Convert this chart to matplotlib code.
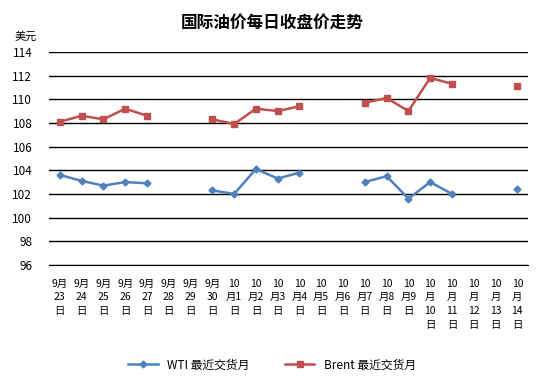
import numpy as np
import matplotlib
matplotlib.use("Agg")
import matplotlib.pyplot as plt

plt.rcParams['font.family'] = ['Noto Sans CJK SC', 'DejaVu Sans']

categories = ["9月\n23\n日", "9月\n24\n日", "9月\n25\n日", "9月\n26\n日", "9月\n27\n日",
              "9月\n28\n日", "9月\n29\n日", "9月\n30\n日", "10\n月1\n日", "10\n月2\n日",
              "10\n月3\n日", "10\n月4\n日", "10\n月5\n日", "10\n月6\n日", "10\n月7\n日",
              "10\n月8\n日", "10\n月9\n日", "10\n月\n10\n日", "10\n月\n11\n日", "10\n月\n12\n日",
              "10\n月\n13\n日", "10\n月\n14\n日"]
nan = np.nan
wti = [103.6, 103.1, 102.7, 103.0, 102.9, nan, nan, 102.3, 102.0, 104.1,
       103.3, 103.8, nan, nan, 103.0, 103.5, 101.6, 103.0, 102.0, nan, nan, 102.4]
brent = [108.1, 108.6, 108.3, 109.2, 108.6, nan, nan, 108.3, 107.9, 109.2,
         109.0, 109.4, nan, nan, 109.7, 110.1, 109.0, 111.8, 111.3, nan, nan, 111.1]
yticks = [96, 98, 100, 102, 104, 106, 108, 110, 112, 114]

fig = plt.figure(figsize=(5.44, 3.84), dpi=100)
ax = fig.add_axes([0.090, 0.310, 0.881, 0.555])
x = np.arange(len(categories))
ax.plot(x, wti, color='#4F81BD', lw=1.8, marker='D', ms=3.5, label='WTI 最近交货月')
ax.plot(x, brent, color='#C0504D', lw=1.8, marker='s', ms=5, label='Brent 最近交货月')

ax.set_xlim(-0.5, len(categories) - 0.5)
ax.set_ylim(96, 114)
ax.set_yticks(yticks)
ax.set_yticklabels([str(v) for v in yticks], fontsize=8.5)
ax.set_xticks(x)
ax.set_xticklabels(categories, fontsize=7.5, linespacing=1.45, va='top')
ax.tick_params(length=0)
ax.tick_params(axis='x', pad=10)
ax.tick_params(axis='y', pad=12)
ax.grid(axis='y', color='black', lw=1)
ax.set_axisbelow(True)
for s in ['left', 'right', 'top']:
    ax.spines[s].set_visible(False)
ax.spines['bottom'].set_color('black')

fig.text(0.5, 0.94, '国际油价每日收盘价走势', ha='center', va='center', fontsize=12, fontweight='bold')
fig.text(0.048, 0.905, '美元', ha='center', va='center', fontsize=8)

ax.legend(loc='center', bbox_to_anchor=(0.5, 0.05), bbox_transform=fig.transFigure,
          ncol=2, frameon=False, fontsize=8.5, handlelength=2.5, columnspacing=3)

fig.savefig('out.png', dpi=100)
